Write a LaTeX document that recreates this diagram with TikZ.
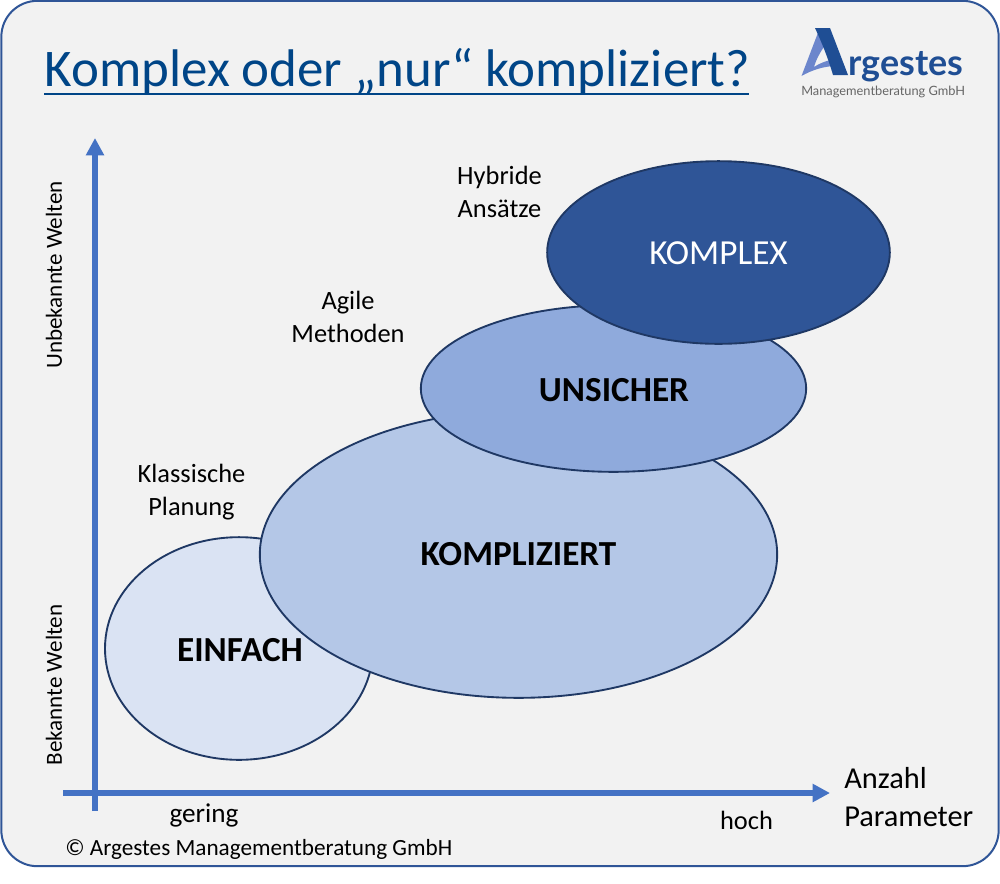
\documentclass[tikz,border=0pt]{standalone}
\usepackage{fontspec}
\usetikzlibrary{shapes.geometric,arrows.meta}
\setmainfont{Carlito}
\newfontfamily\logofont{Lato}
\definecolor{framec}{HTML}{2F5597}
\definecolor{bgc}{HTML}{F2F2F2}
\definecolor{titlec}{HTML}{004587}
\definecolor{axisc}{HTML}{4472C4}
\definecolor{edgec}{HTML}{1F3864}
\definecolor{logoa}{HTML}{1F4E94}
\definecolor{logob}{HTML}{6C86CC}
\definecolor{eincol}{HTML}{DAE3F3}
\definecolor{komplizcol}{HTML}{B4C7E7}
\definecolor{unsichcol}{HTML}{8FAADC}
\definecolor{komplexcol}{HTML}{2F5597}
\tikzset{
 x=0.75pt,y=-0.75pt,
 blob/.style={ellipse,draw=edgec,line width=1.4pt,inner sep=0pt},
 axisline/.style={draw=axisc,line width=4.4pt,-{Triangle[length=13pt,width=13pt]}},
 lab/.style={text=black,align=center,inner sep=0pt,font=\fontsize{19.8}{24.7}\selectfont},
 blobtext/.style={text=black,inner sep=0pt,font=\fontsize{26.4}{30}\selectfont\bfseries},
}
\begin{document}
\begin{tikzpicture}
\useasboundingbox (0,0) rectangle (1000,883);
\node[draw=framec,fill=bgc,line width=1.5pt,rounded corners=27pt,minimum width=748pt,minimum height=649pt,inner sep=0pt] (frame) at (500,433.5) {};
% title
\node[inner sep=0pt,text=titlec,font=\fontsize{39.7}{42}\selectfont] (title) at (397.5,72) {Komplex oder „nur“ kompliziert?};
\coordinate (ula) at (44,94);
\coordinate (ulb) at (749,94);
\draw[titlec,line width=2.2pt] (ula) -- (ulb);
% logo
\fill[logob] (801.5,76) -- (819,30) -- (826,44) .. controls (820,52) and (816,60) .. (814,67) .. controls (820,63) and (826,61) .. (831,60) -- (833,66) .. controls (822,67) and (812,70) .. (801.5,76) -- cycle;
\fill[logoa] (815,28) -- (830,28) -- (848,75) -- (833,75) .. controls (828,58) and (822,43) .. (815,28) -- cycle;
\node[anchor=base west,inner sep=0pt,text=logoa,font=\logofont\bfseries\fontsize{26.9}{28}\selectfont] (logotxt) at (848,75.5) {rgestes};
\node[anchor=base west,inner sep=0pt,text=black!60,font=\logofont\fontsize{9.6}{12}\selectfont] (logosub) at (801,95) {Managementberatung GmbH};
% ellipses
\node[blob,fill=eincol,minimum width=201pt,minimum height=167pt] (einfach) at (239,648.5) {};
\node[blob,fill=komplizcol,minimum width=388pt,minimum height=215pt] (kompliziert) at (518.5,554.5) {};
\node[blob,fill=unsichcol,minimum width=289pt,minimum height=125pt] (unsicher) at (613.5,388.5) {};
\node[blob,fill=komplexcol,minimum width=257pt,minimum height=137pt] (komplex) at (718.5,252.5) {};
\node[blobtext] (t1) at (240,650.5) {EINFACH};
\node[blobtext] (t2) at (518.5,554.5) {KOMPLIZIERT};
\node[blobtext] (t3) at (614,390.5) {UNSICHER};
\node[inner sep=0pt,text=white,font=\fontsize{26.4}{30}\selectfont] (t4) at (718.5,253.5) {KOMPLEX};
% axes
\coordinate (ys) at (95,811);
\coordinate (ye) at (95,138);
\coordinate (xs) at (63,793);
\coordinate (xe) at (830,793);
\draw[axisline] (ys) -- (ye);
\draw[axisline] (xs) -- (xe);
% labels
\node[lab] (l1) at (191.5,492) {Klassische\\Planung};
\node[lab] (l2) at (348,316.5) {Agile\\Methoden};
\node[lab] (l3) at (499.5,192) {Hybride\\Ansätze};
\node[lab,rotate=90,font=\fontsize{17.3}{20}\selectfont] (l4) at (54,275) {Unbekannte Welten};
\node[lab,rotate=90,font=\fontsize{17.3}{20}\selectfont] (l5) at (54,685) {Bekannte Welten};
\node[lab,font=\fontsize{20.4}{24}\selectfont] (l6) at (204,815.5) {gering};
\node[lab] (l7) at (746.5,820) {hoch};
\node[lab,anchor=west,align=left,font=\fontsize{22.8}{28}\selectfont] (l8) at (844,797) {Anzahl\\Parameter};
\node[lab,anchor=west,font=\fontsize{17.4}{20}\selectfont] (l9) at (65,849.5) {© Argestes Managementberatung GmbH};
\end{tikzpicture}
\end{document}
